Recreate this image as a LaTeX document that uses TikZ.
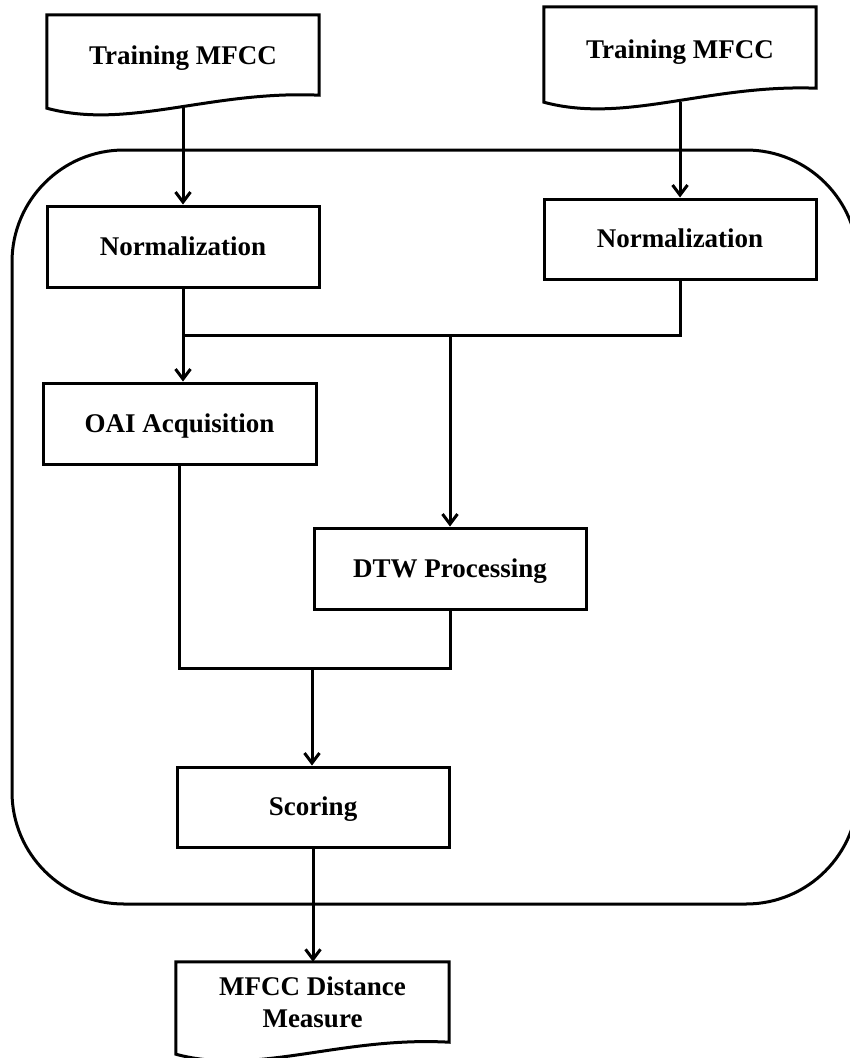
\documentclass[tikz,border=0pt]{standalone}
\usepackage{fontspec}
\setmainfont{Liberation Serif}
\usetikzlibrary{arrows.meta,calc}
\tikzset{
  boxnode/.style={draw, line width=3pt, rectangle, inner sep=0pt, minimum width=272pt,
    minimum height=81pt, font=\fontsize{27}{32}\selectfont\bfseries, text height=17.7pt, text depth=0pt},
  docnode/.style={rectangle, inner sep=0pt, minimum width=272pt},
  doctext/.style={inner sep=0pt, anchor=base, align=center, font=\fontsize{27}{32}\selectfont\bfseries},
  docline/.style={line width=3pt, line join=miter},
  conn/.style={line width=3pt},
  arr/.style={line width=3pt, -{Straight Barb[length=10pt,width=15pt]}},
  container/.style={line width=3pt, rounded corners=112pt}
}
\newcommand\docoutline[2]{%
  \draw[docline] (#1.south west) -- (#1.north west) -- (#1.north east) -- ($(#1.south east)+(0,-#2)$)
    .. controls ($(#1.south west)!0.6!(#1.south east)+(0,-18)$) and ($(#1.south west)!0.3!(#1.south east)+(0,22)$) .. (#1.south west) -- cycle;}
\begin{document}
\begin{tikzpicture}[x=1pt,y=-1pt]
\clip (0,0) rectangle (850,1058);
\fill[white] (0,0) rectangle (850,1058);
% container
\draw[container] (12,150) rectangle (858,904);
% documents
\node[docnode, minimum height=93pt] (d1) at (183,61.5) {};
\node[doctext] (d1t) at (183,64) {Training MFCC};
\docoutline{d1}{13}
\node[docnode, minimum height=95pt] (d2) at (680,54.5) {};
\node[doctext] (d2t) at (680,58) {Training MFCC};
\docoutline{d2}{14}
\node[docnode, minimum width=273pt, minimum height=92pt] (d3) at (312.5,1008) {};
\node[doctext] (d3t) at (312.5,1027) {MFCC Distance\\Measure};
\docoutline{d3}{12}
% boxes
\node[boxnode] (n1) at (183,246.5) {Normalization};
\node[boxnode, minimum height=80pt] (n2) at (680,239) {Normalization};
\node[boxnode, minimum width=273pt] (oai) at (179.5,423.5) {OAI Acquisition};
\node[boxnode] (dtw) at (450,568.5) {DTW Processing};
\node[boxnode, minimum height=80pt] (sc) at (313,807) {Scoring};
% junctions
\coordinate (j1) at (450,335);
\coordinate (j2) at (312,668);
% connectors
\draw[arr] (d1.south) -- (n1.north);
\draw[arr] (d2.south) -- (n2.north);
\draw[arr] (n1.south) -- (n1.south |- oai.north);
\draw[conn] (n2.south) |- (j1) -- (n1.south |- j1);
\draw[arr] (j1) -- (dtw.north);
\draw[conn] (oai.south) |- (j2) -| (dtw.south);
\draw[arr] (j2) -- (j2 |- sc.north);
\draw[arr] (sc.south) -- (sc.south |- d3.north);
\end{tikzpicture}
\end{document}
